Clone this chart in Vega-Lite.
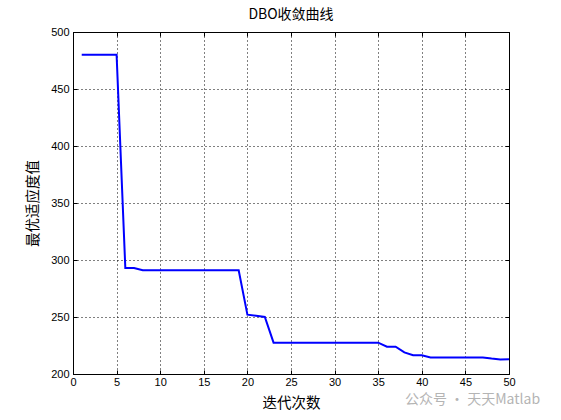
{
  "$schema": "https://vega.github.io/schema/vega-lite/v6.json",
  "width": 436,
  "height": 342,
  "autosize": "none",
  "padding": {"left": 73, "top": 32, "right": 52, "bottom": 46},
  "background": "white",
  "config": {
    "view": {"stroke": "black", "strokeWidth": 1},
    "font": "Liberation Sans"
  },
  "title": {
    "text": "DBO收敛曲线",
    "fontSize": 14,
    "fontWeight": "normal",
    "font": "Noto Sans CJK SC",
    "color": "black",
    "offset": 4
  },
  "data": {
    "values": [
      {"iter": 1, "fit": 480}, {"iter": 2, "fit": 480}, {"iter": 3, "fit": 480}, {"iter": 4, "fit": 480}, {"iter": 5, "fit": 480},
      {"iter": 6, "fit": 293}, {"iter": 7, "fit": 293}, {"iter": 8, "fit": 291}, {"iter": 9, "fit": 291}, {"iter": 10, "fit": 291},
      {"iter": 11, "fit": 291}, {"iter": 12, "fit": 291}, {"iter": 13, "fit": 291}, {"iter": 14, "fit": 291}, {"iter": 15, "fit": 291},
      {"iter": 16, "fit": 291}, {"iter": 17, "fit": 291}, {"iter": 18, "fit": 291}, {"iter": 19, "fit": 291}, {"iter": 20, "fit": 252},
      {"iter": 21, "fit": 251}, {"iter": 22, "fit": 250}, {"iter": 23, "fit": 227.5}, {"iter": 24, "fit": 227.5}, {"iter": 25, "fit": 227.5},
      {"iter": 26, "fit": 227.5}, {"iter": 27, "fit": 227.5}, {"iter": 28, "fit": 227.5}, {"iter": 29, "fit": 227.5}, {"iter": 30, "fit": 227.5},
      {"iter": 31, "fit": 227.5}, {"iter": 32, "fit": 227.5}, {"iter": 33, "fit": 227.5}, {"iter": 34, "fit": 227.5}, {"iter": 35, "fit": 227.5},
      {"iter": 36, "fit": 224}, {"iter": 37, "fit": 224}, {"iter": 38, "fit": 219}, {"iter": 39, "fit": 216.5}, {"iter": 40, "fit": 216.5},
      {"iter": 41, "fit": 214.5}, {"iter": 42, "fit": 214.5}, {"iter": 43, "fit": 214.5}, {"iter": 44, "fit": 214.5}, {"iter": 45, "fit": 214.5},
      {"iter": 46, "fit": 214.5}, {"iter": 47, "fit": 214.5}, {"iter": 48, "fit": 213.5}, {"iter": 49, "fit": 212.8}, {"iter": 50, "fit": 213}
    ]
  },
  "layer": [
    {
      "mark": {"type": "line", "color": "#0000FF", "strokeWidth": 2, "clip": true},
      "encoding": {
        "x": {
          "field": "iter", "type": "quantitative",
          "scale": {"domain": [0, 50], "nice": false},
          "axis": {
            "title": "迭代次数", "titleFont": "Noto Sans CJK SC", "titleFontSize": 14.5, "titleFontWeight": "normal", "titleColor": "black", "titlePadding": 9,
            "values": [0, 5, 10, 15, 20, 25, 30, 35, 40, 45, 50],
            "labelFontSize": 11, "labelColor": "black", "labelPadding": 6, "labelFlush": false,
            "tickSize": -4, "tickColor": "black", "domainColor": "black",
            "grid": true, "gridColor": "black", "gridDash": [1, 3], "gridOpacity": 1, "gridWidth": 1
          }
        },
        "y": {
          "field": "fit", "type": "quantitative",
          "scale": {"domain": [200, 500], "nice": false, "zero": false},
          "axis": {
            "title": "最优适应度值", "titleFont": "Noto Sans CJK SC", "titleFontSize": 14.5, "titleFontWeight": "normal", "titleColor": "black", "titlePadding": 10,
            "values": [200, 250, 300, 350, 400, 450, 500],
            "labelFontSize": 11, "labelColor": "black", "labelPadding": 8, "labelFlush": false,
            "tickSize": -4, "tickColor": "black", "domainColor": "black",
            "grid": true, "gridColor": "black", "gridDash": [1, 3], "gridOpacity": 1, "gridWidth": 1
          }
        }
      }
    },
    {
      "mark": {"type": "line", "opacity": 0},
      "encoding": {
        "x": {
          "field": "iter", "type": "quantitative",
          "axis": {"orient": "top", "title": null, "labels": false, "domain": false, "grid": false,
                   "values": [0, 5, 10, 15, 20, 25, 30, 35, 40, 45, 50], "tickSize": -4, "tickColor": "black"}
        },
        "y": {
          "field": "fit", "type": "quantitative",
          "axis": {"orient": "right", "title": null, "labels": false, "domain": false, "grid": false,
                   "values": [200, 250, 300, 350, 400, 450, 500], "tickSize": -4, "tickColor": "black"}
        }
      }
    },
    {
      "data": {"values": [{"mark": "公众号 · 天天Matlab"}]},
      "mark": {"type": "text", "color": "#b4b4b4", "fontSize": 14, "font": "Noto Sans CJK SC", "align": "left", "baseline": "middle", "clip": false},
      "encoding": {
        "text": {"field": "mark"},
        "x": {"datum": 38.07, "axis": null},
        "y": {"datum": 176.8, "axis": null}
      }
    }
  ],
  "resolve": {"axis": {"x": "independent", "y": "independent"}}
}
